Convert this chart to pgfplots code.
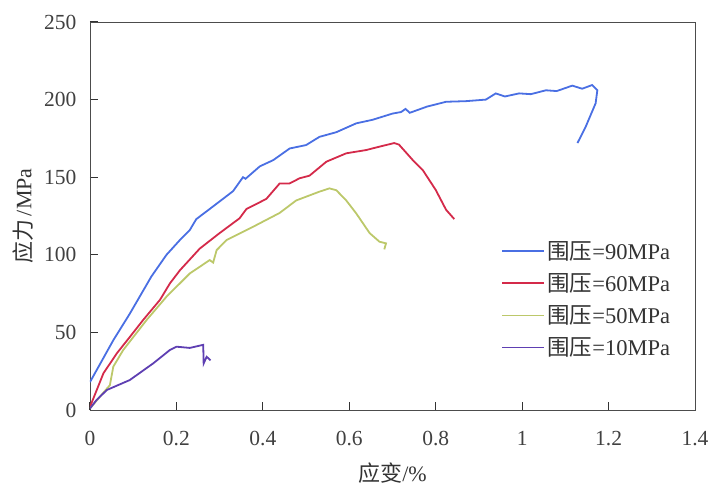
\documentclass[border=0pt]{standalone}
\usepackage{fontspec}
\setmainfont{Liberation Serif}
\newfontfamily\cjk{Noto Sans CJK SC}
\usepackage{pgfplots}
\pgfplotsset{compat=1.18}

\definecolor{c90}{HTML}{4A6FE3}
\definecolor{c60}{HTML}{D42A4A}
\definecolor{c50}{HTML}{BCC86A}
\definecolor{c10}{HTML}{5E3FB2}

\begin{document}
\begin{tikzpicture}
\begin{axis}[
    scale only axis,
    width=605pt, height=388pt,
    xmin=0, xmax=1.4, ymin=0, ymax=250,
    xtick={0,0.2,...,1.4},
    ytick={0,50,...,250},
    tick pos=left,
    tick align=inside,
    major tick length=8pt,
    axis line style={draw=black!70, line width=0.9pt},
    tick style={black!80, line width=1pt},
    /pgf/number format/assume math mode=true,
    ticklabel style={font=\fontsize{21.5}{25}\selectfont, text=black!75},
    xticklabel style={yshift=-18pt},
    yticklabel style={xshift=-10pt},
    xlabel={{\cjk 应变}/\%},
    ylabel={{\cjk 应力}\,/MPa},
    label style={font=\fontsize{22}{26}\selectfont, text=black!80},
    xlabel style={yshift=-10pt},
    ylabel style={yshift=4pt},
    legend cell align=left,
    legend image code/.code={\draw[#1, line width=1.8pt] (0pt,0pt) -- (42pt,0pt);},
    legend style={draw=none, fill=none, at={(0.675,0.445)}, anchor=north west,
        font=\fontsize{22.5}{26}\selectfont, text=black!80, row sep=8.6pt},
]
\addplot[c90, line width=1.8pt] coordinates {
(0,18) (0.054,45) (0.092,62) (0.142,86) (0.177,100) (0.208,109.5) (0.231,116)
(0.246,123) (0.284,131) (0.331,141) (0.354,150) (0.36,149) (0.393,157)
(0.424,161) (0.462,168.5) (0.5,170.7) (0.531,176) (0.57,179) (0.616,184.7)
(0.654,187) (0.7,191) (0.72,192) (0.73,194) (0.74,191.5) (0.78,195.5)
(0.824,198.6) (0.87,199) (0.916,200) (0.939,204) (0.96,202) (0.993,204)
(1.02,203.5) (1.055,206) (1.08,205.5) (1.116,209) (1.139,207) (1.162,209.4)
(1.174,206) (1.17,197.6) (1.147,182.5) (1.128,172)
};
\addlegendentry{{\cjk 围压}=90MPa}
\addplot[c60, line width=1.8pt] coordinates {
(0,2) (0.031,23.6) (0.062,36.5) (0.092,47) (0.123,58) (0.162,71) (0.185,81.6)
(0.208,90) (0.254,104) (0.3,114) (0.346,123.5) (0.362,129.5) (0.408,136)
(0.439,146) (0.462,146) (0.485,149.3) (0.508,151) (0.547,160) (0.593,165.4)
(0.639,167.5) (0.67,169.7) (0.704,172) (0.715,171) (0.747,161) (0.77,154.6)
(0.8,141.8) (0.824,129) (0.843,123)
};
\addlegendentry{{\cjk 围压}=60MPa}
\addplot[c50, line width=1.8pt] coordinates {
(0,1) (0.023,8.6) (0.046,16) (0.054,28) (0.077,38.7) (0.131,58) (0.177,73)
(0.231,88) (0.277,96.6) (0.285,95) (0.293,103) (0.316,109.5) (0.377,118)
(0.439,127) (0.477,135) (0.531,140.7) (0.554,142.8) (0.57,141.6) (0.593,135)
(0.616,126.7) (0.647,114) (0.67,108.4) (0.685,107.4) (0.681,103.5)
};
\addlegendentry{{\cjk 围压}=50MPa}
\addplot[c10, line width=1.8pt] coordinates {
(0,1) (0.015,6.4) (0.039,12.9) (0.092,19.3) (0.146,30) (0.185,38.7) (0.2,40.8)
(0.231,40) (0.262,42) (0.263,30) (0.27,34.3) (0.279,32)
};
\addlegendentry{{\cjk 围压}=10MPa}
\end{axis}
\path ([shift={(-90pt,-77pt)}]current axis.south west) rectangle ([shift={(21pt,22pt)}]current axis.north east);
\end{tikzpicture}
\end{document}
